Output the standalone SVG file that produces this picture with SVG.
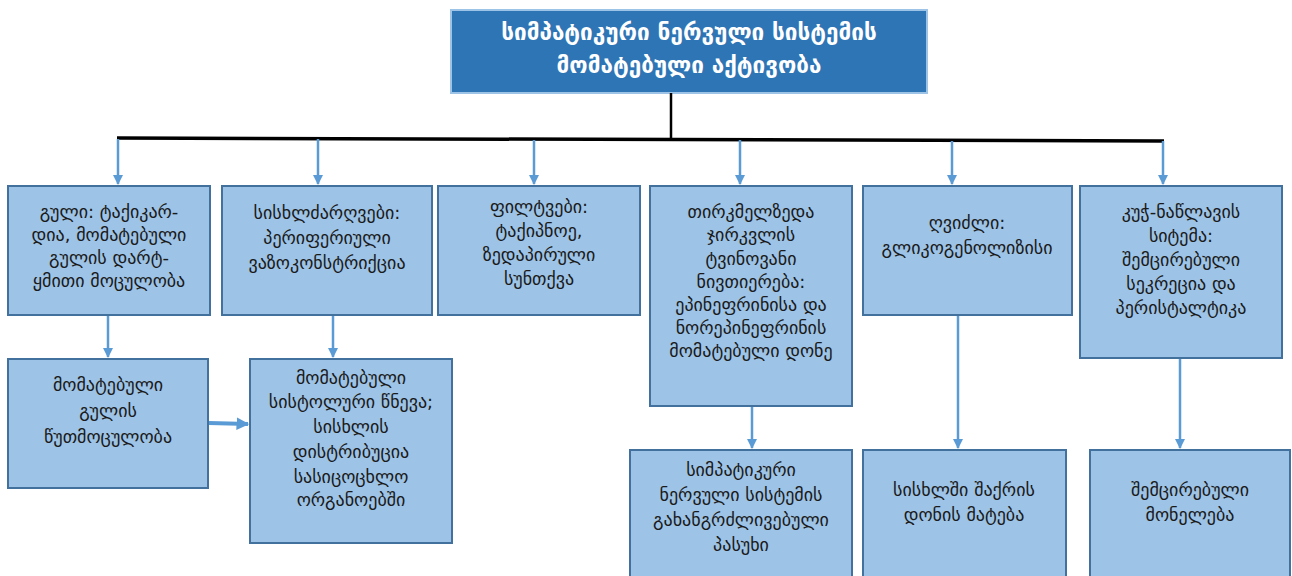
<svg xmlns="http://www.w3.org/2000/svg" width="1292" height="576" viewBox="0 0 1292 576">
<defs>
<marker id="ah" viewBox="0 0 10 10" refX="9" refY="5" markerWidth="4" markerHeight="5" orient="auto" markerUnits="strokeWidth"><path d="M0,0 L10,5 L0,10 z" fill="#5b9bd5"/></marker>
<marker id="ah2" viewBox="0 0 10 10" refX="9" refY="5" markerWidth="3.2" markerHeight="3.6" orient="auto" markerUnits="strokeWidth"><path d="M0,0 L10,5 L0,10 z" fill="#5b9bd5"/></marker>
</defs>
<style>
.box{fill:#9dc3e6;stroke:#41719c;stroke-width:2}
.t{font-family:"DejaVu Sans",sans-serif;font-size:18px;fill:#1a1a1a;text-anchor:middle}
.title{font-family:"DejaVu Sans",sans-serif;font-size:22.5px;font-weight:bold;fill:#ffffff;text-anchor:middle}
.arr{stroke:#5b9bd5;stroke-width:2.5;fill:none;marker-end:url(#ah)}
</style>
<rect width="1292" height="576" fill="#ffffff"/>
<g id="top">
<rect x="451" y="10" width="476" height="83" fill="#2e75b6" stroke="#9dc3e6" stroke-width="2"/>
<text class="title" x="689" y="40">სიმპატიკური ნერვული სისტემის</text>
<text class="title" x="689" y="73">მომატებული აქტივობა</text>
</g>
<g id="connectors">
<line x1="671" y1="93" x2="671" y2="139" stroke="#000" stroke-width="2.5"/>
<line x1="117" y1="138" x2="1164" y2="141" stroke="#000" stroke-width="3.5"/>
<line class="arr" x1="118" y1="139" x2="118" y2="184"/>
<line class="arr" x1="318" y1="139" x2="318" y2="184"/>
<line class="arr" x1="534" y1="140" x2="534" y2="184"/>
<line class="arr" x1="740" y1="140" x2="740" y2="184"/>
<line class="arr" x1="952" y1="141" x2="952" y2="184"/>
<line class="arr" x1="1163" y1="141" x2="1163" y2="184"/>
<line class="arr" x1="108" y1="315" x2="108" y2="357"/>
<line class="arr" x1="333" y1="315" x2="333" y2="357"/>
<line class="arr" x1="752" y1="406" x2="752" y2="448"/>
<line class="arr" x1="958" y1="315" x2="958" y2="448"/>
<line class="arr" x1="1180" y1="358" x2="1180" y2="448"/>
<line x1="209" y1="423" x2="248" y2="424" stroke="#5b9bd5" stroke-width="4" marker-end="url(#ah2)"/>
</g>
<g id="heart">
<rect class="box" x="8" y="186" width="202" height="129"/>
<text class="t" x="109" y="218">გული: ტაქიკარ-</text>
<text class="t" x="109" y="241">დია, მომატებული</text>
<text class="t" x="109" y="264">გულის დარტ-</text>
<text class="t" x="109" y="287">ყმითი მოცულობა</text>
</g>
<g id="vessels">
<rect class="box" x="222" y="186" width="210" height="129"/>
<text class="t" x="327" y="219">სისხლძარღვები:</text>
<text class="t" x="327" y="244">პერიფერიული</text>
<text class="t" x="327" y="269">ვაზოკონსტრიქცია</text>
</g>
<g id="lungs">
<rect class="box" x="438" y="186" width="202" height="129"/>
<text class="t" x="539" y="213">ფილტვები:</text>
<text class="t" x="539" y="237">ტაქიპნოე,</text>
<text class="t" x="539" y="261">ზედაპირული</text>
<text class="t" x="539" y="285">სუნთქვა</text>
</g>
<g id="adrenal">
<rect class="box" x="650" y="186" width="202" height="220"/>
<text class="t" x="751" y="218">თირკმელზედა</text>
<text class="t" x="751" y="241">ჯირკვლის</text>
<text class="t" x="751" y="265">ტვინოვანი</text>
<text class="t" x="751" y="288">ნივთიერება:</text>
<text class="t" x="751" y="311">ეპინეფრინისა და</text>
<text class="t" x="751" y="334">ნორეპინეფრინის</text>
<text class="t" x="751" y="357">მომატებული დონე</text>
</g>
<g id="liver">
<rect class="box" x="863" y="186" width="209" height="129"/>
<text class="t" x="967" y="229">ღვიძლი:</text>
<text class="t" x="967" y="254">გლიკოგენოლიზისი</text>
</g>
<g id="gi">
<rect class="box" x="1080" y="186" width="202" height="172"/>
<text class="t" x="1181" y="218">კუჭ-ნაწლავის</text>
<text class="t" x="1181" y="242">სიტემა:</text>
<text class="t" x="1181" y="266">შემცირებული</text>
<text class="t" x="1181" y="290">სეკრეცია და</text>
<text class="t" x="1181" y="314">პერისტალტიკა</text>
</g>
<g id="output">
<rect class="box" x="8" y="359" width="200" height="129"/>
<text class="t" x="108" y="391">მომატებული</text>
<text class="t" x="108" y="417">გულის</text>
<text class="t" x="108" y="443">წუთმოცულობა</text>
</g>
<g id="pressure">
<rect class="box" x="250" y="359" width="202" height="184"/>
<text class="t" x="351" y="384">მომატებული</text>
<text class="t" x="351" y="408">სისტოლური წნევა;</text>
<text class="t" x="351" y="433">სისხლის</text>
<text class="t" x="351" y="458">დისტრიბუცია</text>
<text class="t" x="351" y="483">სასიცოცხლო</text>
<text class="t" x="351" y="506">ორგანოებში</text>
</g>
<g id="prolonged">
<rect class="box" x="630" y="450" width="222" height="130"/>
<text class="t" x="741" y="476">სიმპატიკური</text>
<text class="t" x="741" y="501">ნერვული სისტემის</text>
<text class="t" x="741" y="526">გახანგრძლივებული</text>
<text class="t" x="741" y="551">პასუხი</text>
</g>
<g id="sugar">
<rect class="box" x="863" y="450" width="203" height="130"/>
<text class="t" x="964" y="496">სისხლში შაქრის</text>
<text class="t" x="964" y="521">დონის მატება</text>
</g>
<g id="digestion">
<rect class="box" x="1090" y="450" width="200" height="130"/>
<text class="t" x="1190" y="496">შემცირებული</text>
<text class="t" x="1190" y="521">მონელება</text>
</g>
</svg>
